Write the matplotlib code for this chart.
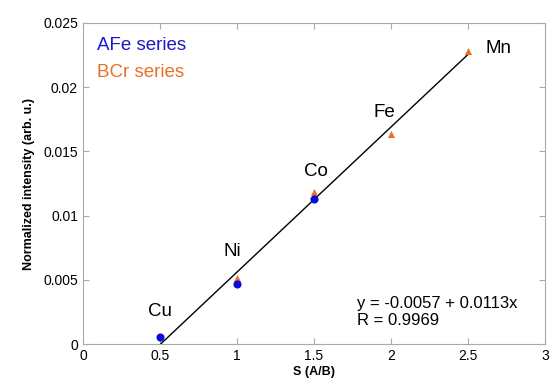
import matplotlib
matplotlib.use("Agg")
import matplotlib.pyplot as plt
import numpy as np

plt.rcParams['font.family'] = ['Liberation Sans', 'DejaVu Sans']

# AFe series (blue circles)
afe_x = [0.5, 1.0, 1.5]
afe_y = [0.00055, 0.00465, 0.01127]

# BCr series (orange triangles)
bcr_x = [1.0, 1.5, 2.0, 2.5]
bcr_y = [0.00516, 0.01181, 0.01636, 0.0228]

# element labels
elements = ["Cu", "Ni", "Co", "Fe", "Mn"]
elem_x = [0.5, 0.97, 1.51, 1.96, 2.70]
elem_y = [0.0025, 0.0072, 0.0134, 0.018, 0.023]

# linear fit
intercept = -0.0057
slope = 0.0113
fit_x = np.array([0.5, 2.5])

fig = plt.figure(figsize=(5.53, 3.87), dpi=100)
ax = fig.add_axes([0.150, 0.111, 0.8355, 0.8296])

ax.plot(fit_x, intercept + slope * fit_x, color="black", lw=1.0, zorder=2)
ax.scatter(bcr_x, bcr_y, marker="^", s=26, color="#e8701f", zorder=3, linewidths=0)
ax.scatter(afe_x, afe_y, marker="o", s=34, color="#0a0adc", zorder=4, linewidths=0)

for name, x, y in zip(elements, elem_x, elem_y):
    ax.text(x, y, name, fontsize=13.5, ha="center", va="center")

ax.text(0.03, 0.93, "AFe series", transform=ax.transAxes, color="#1a1acc", fontsize=13.5, va="center")
ax.text(0.03, 0.845, "BCr series", transform=ax.transAxes, color="#e8702a", fontsize=13.5, va="center")

ax.text(0.593, 0.10, "y = -0.0057 + 0.0113x\nR = 0.9969", transform=ax.transAxes,
        fontsize=12, va="center", linespacing=1.15)

ax.set_xlim(0, 3)
ax.set_ylim(0, 0.025)
ax.set_xticks([0, 0.5, 1, 1.5, 2, 2.5, 3])
ax.set_xticklabels(["0", "0.5", "1", "1.5", "2", "2.5", "3"])
ax.set_yticks([0, 0.005, 0.01, 0.015, 0.02, 0.025])
ax.set_yticklabels(["0", "0.005", "0.01", "0.015", "0.02", "0.025"])
ax.tick_params(direction="in", top=True, right=True, length=4, color="#aaaaaa", labelsize=10)
for s in ax.spines.values():
    s.set_color("#aaaaaa")

ax.set_xlabel("S (A/B)", fontsize=9, fontweight="bold", labelpad=2)
ax.set_ylabel("Normalized intensity (arb. u.)", fontsize=9, fontweight="bold", labelpad=6)

fig.savefig("out.png", dpi=100)
